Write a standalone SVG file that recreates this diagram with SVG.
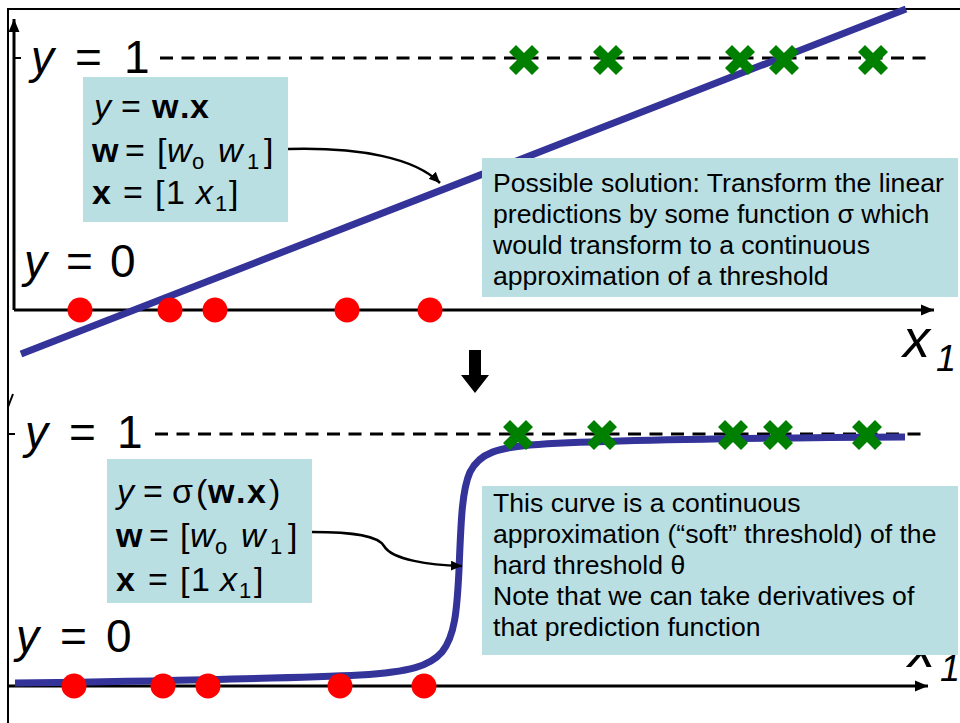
<svg xmlns="http://www.w3.org/2000/svg" width="960" height="723" viewBox="0 0 960 723">
<style>
text{font-family:"Liberation Sans",Arial,sans-serif;fill:#000}
.box{fill:#B9DFE3}
.ax{stroke:#000;stroke-width:3;fill:none}
.frame{stroke:#000;stroke-width:2;fill:none}
.dash{stroke:#000;stroke-width:3;stroke-dasharray:13 8.5;fill:none}
.curve{stroke:#333399;stroke-width:7;fill:none;stroke-linecap:butt}
.dot{fill:#FF0000}
.cross{fill:#008000}
.lbl{font-size:46px}
.f{font-size:34px}
.sub{font-size:22px}
.note{font-size:26.6px}
.it{font-style:italic}
.b{font-weight:bold}
.conn{stroke:#000;stroke-width:2.5;fill:none}
</style>
<defs>
<marker id="axhead" markerUnits="userSpaceOnUse" markerWidth="14" markerHeight="12" refX="13" refY="6" orient="auto">
<path d="M0,0.5 L13,6 L0,11.5 z" fill="#000"/>
</marker>
<marker id="conhead" markerUnits="userSpaceOnUse" markerWidth="12" markerHeight="10" refX="11" refY="5" orient="auto">
<path d="M0,0 L11,5 L0,10 z" fill="#000"/>
</marker>
<path id="x" d="M-15,-8 L-8,-15 L0,-7 L8,-15 L15,-8 L7,0 L15,8 L8,15 L0,7 L-8,15 L-15,8 L-7,0 z"/>
</defs>

<g id="top-panel">
<path class="frame" d="M8,723 V9 H960"/>
<line class="ax" x1="14" y1="310" x2="14" y2="19" marker-end="url(#axhead)"/>
<line class="ax" x1="14" y1="310" x2="934" y2="310" marker-end="url(#axhead)"/>
<line class="frame" x1="14" y1="58" x2="21" y2="58"/>
<line class="dash" x1="160" y1="58" x2="928" y2="58"/>
<line class="curve" x1="21" y1="354" x2="906" y2="9"/>
<g class="cross">
<use href="#x" x="524" y="60"/><use href="#x" x="608" y="60"/><use href="#x" x="740" y="60"/><use href="#x" x="784" y="60"/><use href="#x" x="873" y="60"/>
</g>
<g class="dot">
<circle cx="80" cy="310" r="12.5"/><circle cx="170" cy="310" r="12.5"/><circle cx="215" cy="310" r="12.5"/><circle cx="347" cy="310" r="12.5"/><circle cx="430" cy="310" r="12.5"/>
</g>
<text class="lbl" y="73"><tspan class="it" x="31">y</tspan><tspan x="75">=</tspan><tspan x="124">1</tspan></text>
<text class="lbl" y="277"><tspan class="it" x="24">y</tspan><tspan x="66">=</tspan><tspan x="110">0</tspan></text>
<text y="357"><tspan class="it" x="903" font-size="54">x</tspan><tspan class="it" x="936" y="371" font-size="36">1</tspan></text>
</g>

<g id="down-arrow">
<path d="M469,350 H481 V375 H489 L475,393 L461,375 H469 z" fill="#000"/>
</g>

<g id="bottom-panel">
<path d="M13,394 L8,407" stroke="#000" stroke-width="2" fill="none"/>
<line class="ax" x1="8" y1="686" x2="928" y2="686" marker-end="url(#axhead)"/>
<line class="frame" x1="8" y1="434" x2="15" y2="434"/>
<line class="dash" x1="155" y1="434" x2="921" y2="434"/>
<path class="curve" d="M15,683 C120,682 300,678 360,675 C410,672 430,666 442,652 C455,636 457,610 459,570 C461,520 462,490 470,472 C480,452 500,448 530,445 C600,440 750,438 905,437"/>
<g class="cross">
<use href="#x" x="518" y="435"/><use href="#x" x="602" y="435"/><use href="#x" x="733" y="435"/><use href="#x" x="778" y="435"/><use href="#x" x="867" y="435"/>
</g>
<g class="dot">
<circle cx="74" cy="686" r="12.5"/><circle cx="163" cy="686" r="12.5"/><circle cx="208" cy="686" r="12.5"/><circle cx="340" cy="686" r="12.5"/><circle cx="424" cy="686" r="12.5"/>
</g>
<text class="lbl" y="448"><tspan class="it" x="25">y</tspan><tspan x="69">=</tspan><tspan x="117">1</tspan></text>
<text class="lbl" y="652"><tspan class="it" x="16">y</tspan><tspan x="60">=</tspan><tspan x="106">0</tspan></text>
<text y="667"><tspan class="it" x="908" font-size="54">x</tspan><tspan class="it" x="940" y="681" font-size="36">1</tspan></text>
</g>

<g id="top-formula">
<rect class="box" x="83" y="77" width="205" height="145"/>
<text class="f" y="118"><tspan class="it" x="94">y</tspan><tspan x="121">=</tspan><tspan class="b" x="152">w</tspan><tspan class="b" x="180">.</tspan><tspan class="b" x="190">x</tspan></text>
<text class="f" y="162"><tspan class="b" x="92">w</tspan><tspan x="125">=</tspan><tspan x="157">[</tspan><tspan class="it" x="167">w</tspan><tspan class="sub" x="192" y="169">o</tspan><tspan class="it" x="218" y="162">w</tspan><tspan class="sub" x="247" y="169">1</tspan><tspan x="264" y="162">]</tspan></text>
<text class="f" y="204"><tspan class="b" x="92">x</tspan><tspan x="123">=</tspan><tspan x="155">[</tspan><tspan x="166">1</tspan><tspan class="it" x="196">x</tspan><tspan class="sub" x="215" y="211">1</tspan><tspan x="229" y="204">]</tspan></text>
</g>

<g id="top-note">
<rect class="box" x="482" y="158" width="476" height="139"/>
<text class="note" x="493" y="192">Possible solution: Transform the linear</text>
<text class="note" x="493" y="223">predictions by some function σ which</text>
<text class="note" x="493" y="254">would transform to a continuous</text>
<text class="note" x="493" y="285">approximation of a threshold</text>
</g>

<g id="bottom-formula">
<rect class="box" x="107" y="459" width="205" height="144"/>
<text class="f" y="503"><tspan class="it" x="117">y</tspan><tspan x="143">=</tspan><tspan x="172">σ</tspan><tspan x="196">(</tspan><tspan class="b" x="208">w</tspan><tspan class="b" x="236">.</tspan><tspan class="b" x="247">x</tspan><tspan x="269">)</tspan></text>
<text class="f" y="547"><tspan class="b" x="116">w</tspan><tspan x="149">=</tspan><tspan x="180">[</tspan><tspan class="it" x="190">w</tspan><tspan class="sub" x="215" y="554">o</tspan><tspan class="it" x="241" y="547">w</tspan><tspan class="sub" x="270" y="554">1</tspan><tspan x="288" y="547">]</tspan></text>
<text class="f" y="591"><tspan class="b" x="116">x</tspan><tspan x="148">=</tspan><tspan x="180">[</tspan><tspan x="191">1</tspan><tspan class="it" x="220">x</tspan><tspan class="sub" x="239" y="598">1</tspan><tspan x="254" y="591">]</tspan></text>
</g>

<g id="bottom-note">
<rect class="box" x="482" y="486" width="476" height="169"/>
<text class="note" x="493" y="512">This curve is a continuous</text>
<text class="note" x="493" y="543">approximation (“soft” threshold) of the</text>
<text class="note" x="493" y="574">hard threshold θ</text>
<text class="note" x="493" y="605">Note that we can take derivatives of</text>
<text class="note" x="493" y="636">that prediction function</text>
</g>

<g id="connectors">
<path class="conn" d="M288,149 C360,147 415,158 440,183" marker-end="url(#conhead)"/>
<path class="conn" d="M312,532 C355,532 378,536 384,546 C392,560 430,565 462,566" marker-end="url(#conhead)"/>
</g>
</svg>
